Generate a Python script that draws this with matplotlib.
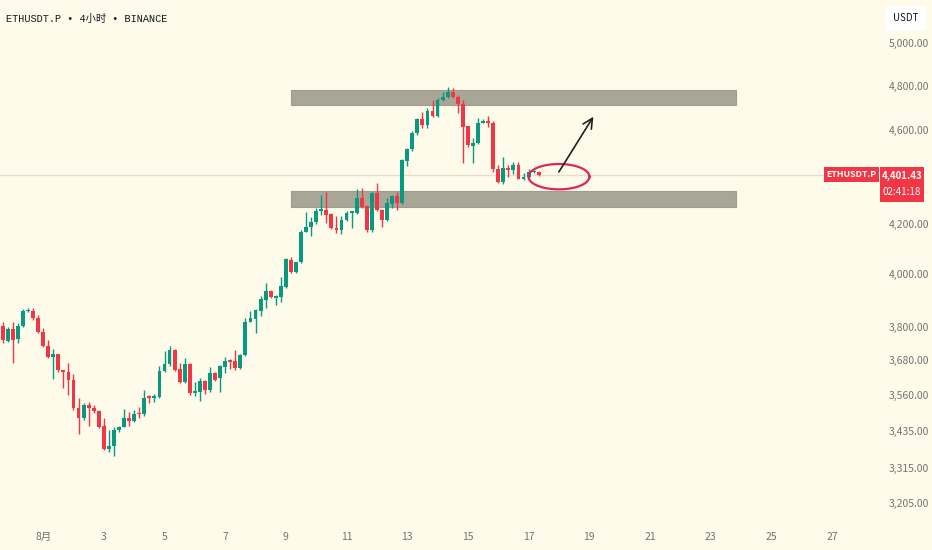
import numpy as np
import pandas as pd
import matplotlib
matplotlib.use("Agg")
import matplotlib.pyplot as plt
from matplotlib.patches import Rectangle, FancyBboxPatch
from matplotlib.ticker import NullLocator, FixedLocator, FixedFormatter

# ---------------- data (ETHUSDT.P, 4h candles) ----------------
start_time = "2025-07-30 16:00"
opens = [3805, 3750, 3793, 3755, 3805, 3859, 3860, 3835, 3783, 3732,
         3693, 3701, 3645, 3637, 3610, 3513, 3481, 3524, 3513, 3504,
         3453, 3377, 3388, 3440, 3451, 3479, 3470, 3496, 3493, 3552,
         3548, 3550, 3642, 3666, 3717, 3648, 3604, 3667, 3566, 3567,
         3607, 3576, 3636, 3616, 3656, 3679, 3677, 3651, 3699, 3820,
         3830, 3860, 3901, 3935, 3909, 3913, 3952, 4055, 4007, 4046,
         4167, 4185, 4205, 4252, 4256, 4238, 4183, 4174, 4215, 4245,
         4245, 4306, 4272, 4174, 4327, 4256, 4215, 4280, 4314, 4284,
         4463, 4513, 4583, 4646, 4620, 4685, 4662, 4733, 4745, 4772,
         4745, 4714, 4615, 4529, 4540, 4631, 4636, 4631, 4426, 4374,
         4430, 4423, 4445, 4384, 4395, 4414, 4414]
highs = [3820, 3801, 3820, 3814, 3867, 3872, 3869, 3845, 3795, 3753,
         3721, 3703, 3647, 3669, 3630, 3547, 3530, 3533, 3524, 3507,
         3479, 3440, 3451, 3454, 3510, 3501, 3507, 3518, 3576, 3558,
         3562, 3659, 3713, 3731, 3719, 3669, 3687, 3671, 3604, 3616,
         3610, 3655, 3638, 3663, 3693, 3684, 3715, 3701, 3832, 3859,
         3866, 3916, 3964, 3937, 3920, 3990, 4064, 4067, 4048, 4174,
         4249, 4225, 4265, 4318, 4329, 4242, 4229, 4229, 4252, 4250,
         4343, 4346, 4276, 4332, 4368, 4260, 4304, 4318, 4329, 4470,
         4520, 4594, 4653, 4678, 4696, 4733, 4741, 4772, 4792, 4790,
         4756, 4733, 4617, 4562, 4650, 4646, 4660, 4636, 4445, 4481,
         4445, 4459, 4459, 4412, 4427, 4423, 4420]
lows = [3741, 3747, 3669, 3741, 3801, 3854, 3826, 3777, 3729, 3687,
        3614, 3639, 3583, 3558, 3507, 3426, 3473, 3453, 3496, 3448,
        3374, 3368, 3353, 3434, 3449, 3453, 3465, 3481, 3488, 3530,
        3535, 3547, 3639, 3660, 3643, 3599, 3601, 3558, 3555, 3539,
        3562, 3567, 3608, 3570, 3634, 3648, 3645, 3649, 3695, 3818,
        3777, 3841, 3872, 3907, 3882, 3893, 3948, 4003, 4003, 4042,
        4165, 4151, 4197, 4235, 4204, 4178, 4160, 4156, 4211, 4183,
        4238, 4265, 4167, 4165, 4252, 4185, 4211, 4265, 4256, 4280,
        4442, 4506, 4576, 4605, 4605, 4657, 4657, 4730, 4741, 4741,
        4673, 4452, 4525, 4452, 4536, 4628, 4612, 4416, 4368, 4365,
        4395, 4406, 4384, 4381, 4391, 4410, 4398]
closes = [3753, 3793, 3753, 3805, 3860, 3862, 3832, 3783, 3732, 3693,
          3701, 3645, 3637, 3610, 3513, 3481, 3524, 3513, 3504, 3451,
          3377, 3388, 3440, 3451, 3479, 3470, 3493, 3493, 3549, 3549,
          3552, 3642, 3666, 3717, 3645, 3604, 3667, 3564, 3570, 3607,
          3576, 3634, 3612, 3659, 3677, 3675, 3651, 3699, 3820, 3832,
          3863, 3904, 3935, 3911, 3913, 3954, 4059, 4007, 4046, 4167,
          4185, 4205, 4252, 4258, 4235, 4181, 4174, 4215, 4245, 4248,
          4306, 4269, 4174, 4327, 4256, 4215, 4284, 4314, 4284, 4466,
          4513, 4586, 4646, 4620, 4685, 4662, 4733, 4745, 4772, 4745,
          4714, 4612, 4532, 4542, 4631, 4636, 4631, 4426, 4374, 4430,
          4423, 4445, 4385, 4395, 4414, 4416, 4401.43]

price_ticks = [3205, 3315, 3435, 3560, 3680, 3800, 4000, 4200, 4600, 4800, 5000]
date_tick_days = [1, 3, 5, 7, 9, 11, 13, 15, 17, 19, 21, 23, 25, 27]
date_tick_labels = ["8月", "3", "5", "7", "9", "11", "13", "15", "17", "19", "21", "23", "25", "27"]

# resistance / support zones (price ranges, from-to in time)
zone_start = "2025-08-09 04:00"
zone_end = "2025-08-23 20:00"
upper_zone = (4710, 4779)
lower_zone = (4269, 4335)

last_price = closes[-1]
countdown = "02:41:18"
title = "ETHUSDT.P • 4小时 • BINANCE"

# ---------------- styling ----------------
BG = "#fefbea"
UP = "#089981"
DOWN = "#f23645"
AX_TXT = "#737373"
CJK = ["Noto Sans CJK SC", "DejaVu Sans"]
plt.rcParams["font.family"] = CJK

W, H = 932, 550
fig = plt.figure(figsize=(W / 100, H / 100), dpi=100)
fig.patch.set_facecolor(BG)
pane_right = 879
pane_bottom = 522
ax = fig.add_axes([0, (H - pane_bottom) / H, pane_right / W, pane_bottom / H])
ax.set_facecolor(BG)
for s in ax.spines.values():
    s.set_visible(False)

t0 = pd.Timestamp(start_time)
step = pd.Timedelta(hours=4)
times = pd.date_range(t0, periods=len(opens), freq="4h")
x = np.arange(len(opens))

def tpos(ts):
    return (pd.Timestamp(ts) - t0) / step

o = np.array(opens, float)
c = np.array(closes, float)
hi = np.array(highs, float)
lo = np.array(lows, float)
up = c >= o
cols = np.where(up, UP, DOWN)

ax.set_yscale("log")
ax.set_xlim(-0.534, 173.3)
ax.set_ylim(3147, 5214)

# price line
ax.axhline(last_price, color="#e7dbd1", lw=1, zorder=1)

# zones
zs, ze = tpos(zone_start), tpos(zone_end)
for lo_p, hi_p in (upper_zone, lower_zone):
    ax.add_patch(Rectangle((zs, lo_p), ze - zs, hi_p - lo_p, facecolor="#a8a797",
                           edgecolor="#9d9c8d", lw=0.8, zorder=2))

# candles
body_lo = np.minimum(o, c)
body_hi = np.maximum(o, c)
body_hi = np.maximum(body_hi, body_lo * 1.0015)
ax.vlines(x, lo, hi, colors=cols, lw=1.0, zorder=3)
ax.bar(x, body_hi - body_lo, bottom=body_lo, width=0.76, color=cols, lw=0, zorder=4)

# ellipse annotation around the latest candles
ell_cx, ell_cp = 110.0, 4395
ell_a, ell_b = 6.03, 0.01228
th = np.linspace(0, 2 * np.pi, 200)
ax.plot(ell_cx + ell_a * np.cos(th), np.exp(np.log(ell_cp) + ell_b * np.sin(th)),
        color="#e0245e", lw=1.6, zorder=5)

# arrow
ax.annotate("", xy=(117.1, 4668), xytext=(109.7, 4405),
            arrowprops=dict(arrowstyle="->,head_length=0.7,head_width=0.35",
                            color="#1f1f1f", lw=1.2), zorder=6)

# axes ticks
ax.yaxis.tick_right()
ax.yaxis.set_major_locator(FixedLocator(price_ticks))
ax.yaxis.set_major_formatter(FixedFormatter([f"{p:,.2f}" for p in price_ticks]))
ax.yaxis.set_minor_locator(NullLocator())
ax.tick_params(axis="y", length=0, pad=7, labelsize=7.5, labelcolor=AX_TXT)

day_pos = [tpos(pd.Timestamp(f"2025-08-{d:02d} 00:00")) for d in date_tick_days]
ax.xaxis.set_major_locator(FixedLocator(day_pos))
ax.xaxis.set_major_formatter(FixedFormatter(date_tick_labels))
ax.xaxis.set_minor_locator(NullLocator())
ax.tick_params(axis="x", length=0, pad=7, labelsize=7.5, labelcolor=AX_TXT)

# title
fig.text(6 / W, 1 - 19 / H, title, ha="left", va="center", fontsize=7.4,
         color="#131722", family=["Liberation Mono", "Noto Sans CJK SC"])

# USDT box
fig.patches.append(FancyBboxPatch((886 / W, 1 - 31 / H), 40 / W, 25 / H,
                                  boxstyle="round,pad=0,rounding_size=0.004",
                                  transform=fig.transFigure, facecolor="white",
                                  edgecolor="none", figure=fig))
fig.text(906 / W, 1 - 18 / H, "USDT", ha="center", va="center", fontsize=7, color="#131722")

# last price labels
fig.patches.append(Rectangle((824 / W, 1 - 182 / H), 55 / W, 15 / H,
                             transform=fig.transFigure, facecolor=DOWN, edgecolor="none", figure=fig))
fig.text(851.5 / W, 1 - 174.5 / H, "ETHUSDT.P", ha="center", va="center",
         fontsize=6.4, color="white", fontweight="bold")
fig.patches.append(Rectangle((880 / W, 1 - 202 / H), 44 / W, 35 / H,
                             transform=fig.transFigure, facecolor=DOWN, edgecolor="none", figure=fig))
fig.text(902 / W, 1 - 175.5 / H, f"{last_price:,.2f}", ha="center", va="center",
         fontsize=7, color="white", fontweight="bold")
fig.text(902 / W, 1 - 192 / H, countdown, ha="center", va="center",
         fontsize=7, color="white")

fig.savefig("out.png", dpi=100, facecolor=BG)
